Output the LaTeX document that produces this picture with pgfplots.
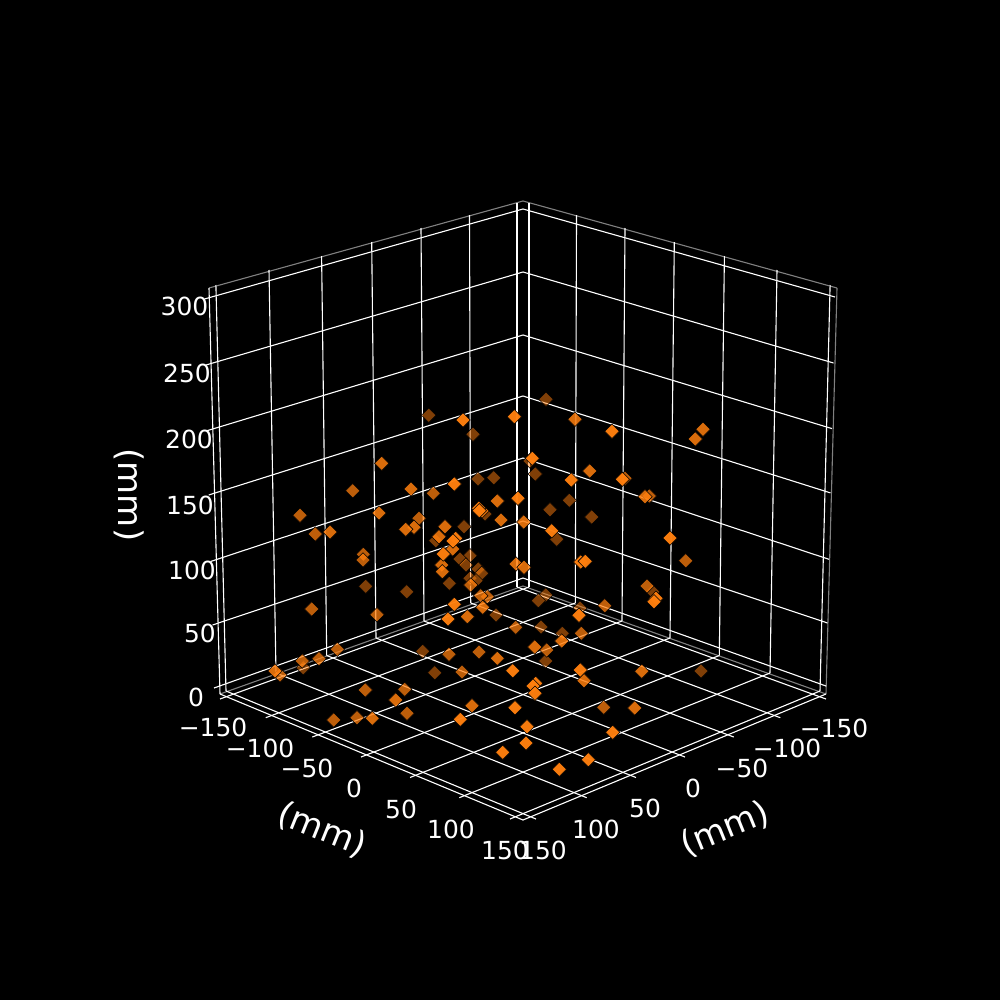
\documentclass[border=0pt]{standalone}
\usepackage{fontspec}
\setmainfont{DejaVu Sans}
\usepackage{pgfplots}
\pgfplotsset{compat=1.18}
\usepackage{pgfplotstable}

\definecolor{dot}{HTML}{FF7F0E}

\tikzset{
  tl/.style={text=white, font=\fontsize{18}{20}\selectfont, inner sep=0pt},
  al/.style={text=white, font=\fontsize{24.5}{28}\selectfont, inner sep=0pt},
}
\pgfplotsset{
  grid line/.style={white, line width=0.8pt, no marks, forget plot},
  pane line/.style={gray, line width=0.8pt, no marks, forget plot},
  dots/.style={only marks, mark=square*, mark size=3.7pt,
    mark options={rotate=45, draw=none, fill=dot, fill opacity=#1}},
}

% the view is a perspective one, so everything is kept in picture position (x, y down)
\pgfplotstableread{
x y
546 399.3
428.7 415.3
473 434.3
478 479
493.7 477.7
530 461
535.3 474
464 526.7
485 514
435.7 540.7
470 555.7
460 559
466 565
478.3 569
481.7 573.3
470 578.3
476 580.7
449.3 583.3
406.7 591.7
496 615
569.3 500.3
550 509.7
591.7 517
556.7 539.3
652.7 591.7
545.7 595
538.3 600.7
580 608
562.3 633.3
541 627
545.7 661
434.7 672.7
422.7 651.3
303.3 667.7
365.7 586.3
701 671
}\farpts
\pgfplotstableread{
x y
352.7 490.7
300 515.3
315.3 534
363.3 554.3
363 560
419 518.3
433.3 493.3
482 511
470.7 585
487.3 596.7
480.7 595.7
685.7 560.7
625 478.3
649.3 496
647 586
604.7 605.7
311.7 609
377 614.7
337.3 649.3
319 658.7
302.3 661
280 675
365.3 690
404.7 689.3
333.7 720
357 717.7
407 713.3
462 672
479 652
581.3 633.3
449 654.3
515.7 627.3
546.7 650
603.7 707.3
}\midpts
\pgfplotstableread{
x y
330 532
381.7 463.3
411 489
379 513
414 527.3
405.7 529.3
445 526.7
439 536.7
452.7 549
441.7 565
442.3 571.7
482.7 607.3
467.3 616.7
501 520
497.3 501
575 419.3
703 429.3
695.3 439
589.7 471
645 496.7
523.7 522
516 564
524 567.3
275 671
395.7 700
372.3 718.3
497.3 658.3
534.7 647
561.7 641
584 680.7
472 705.7
641.7 671.3
634.7 708
}\nearpts
\pgfplotstableread{
x y
463 420
612 431.3
514.3 416.7
532.3 458.3
518 498.3
454.3 484
478.7 508.3
479.3 510.7
455.7 538.3
453 541
443.3 554
454.3 604.3
448 619
571.3 480
622.3 479.3
551.7 530.7
670 538
580.7 562
585.3 561.3
656 598.3
654 601.7
579 615.3
512.7 670.7
580.3 670
535.7 683.3
533 686
535 693.3
515 707.7
460.3 719.3
527 726.7
526 743
502.7 752.3
588.3 759.7
559.3 769.3
612.7 732.3
}\frontpts

\begin{document}
\begin{tikzpicture}
\fill[black] (0,0) rectangle (10in,10in);
\begin{axis}[
  at={(0,0)}, anchor=south west,
  scale only axis, width=10in, height=10in,
  hide axis,
  xmin=0, xmax=1000, ymin=0, ymax=1000,
  y dir=reverse,
  clip=false,
]
% panes
\addplot[pane line] coordinates {(209,288) (523,201) (837,288)};
\addplot[pane line] coordinates {(220,694) (523,586) (826,694)};
\addplot[grid line] coordinates {(209,288) (220,694)};
\addplot[pane line] coordinates {(837,288) (826,694)};
\addplot[grid line] coordinates {(220,694) (523,820) (826,694)};

% z grid, both walls
\addplot[grid line] coordinates {(204.5,299) (523,209) (835,297)};
\addplot[grid line] coordinates {(206,365) (523,272) (833.5,363)};
\addplot[grid line] coordinates {(207,430.7) (523,335) (832,428.6)};
\addplot[grid line] coordinates {(208.7,495) (523,396) (830.5,492.9)};
\addplot[grid line] coordinates {(210.5,561.5) (523,458) (829,559.3)};
\addplot[grid line] coordinates {(212.5,625) (523,521) (827.5,623)};
\addplot[grid line] coordinates {(214,688) (523,578) (826,686)};

% verticals, left wall then right wall
\addplot[grid line] coordinates {(215.9,285) (226,691)};
\addplot[grid line] coordinates {(269,270) (276,673)};
\addplot[grid line] coordinates {(321.6,256) (326.7,655.5)};
\addplot[grid line] coordinates {(371.7,242) (376,638)};
\addplot[grid line] coordinates {(421,228) (424,621)};
\addplot[grid line] coordinates {(469.5,215) (470.7,603)};
\addplot[grid line] coordinates {(517,203) (517,587)};
\addplot[grid line] coordinates {(529,203) (529,587)};
\addplot[grid line] coordinates {(576.5,215) (575.3,603)};
\addplot[grid line] coordinates {(625,228) (622,621)};
\addplot[grid line] coordinates {(674.3,242) (670,638)};
\addplot[grid line] coordinates {(724.4,256) (719.3,655.5)};
\addplot[grid line] coordinates {(777,270) (770,673)};
\addplot[grid line] coordinates {(830.1,285) (820,691)};

% floor grid
\addplot[grid line] coordinates {(529,587) (220,699)};
\addplot[grid line] coordinates {(575.3,603) (265.7,717.7)};
\addplot[grid line] coordinates {(622,621) (312.3,737)};
\addplot[grid line] coordinates {(670,638) (361,757)};
\addplot[grid line] coordinates {(719.3,655.5) (410,777.5)};
\addplot[grid line] coordinates {(770,673) (459.3,797.7)};
\addplot[grid line] coordinates {(820,691) (510,819)};
\addplot[grid line] coordinates {(517,587) (826,699)};
\addplot[grid line] coordinates {(470.7,603) (780.3,717.7)};
\addplot[grid line] coordinates {(424,621) (733.7,737)};
\addplot[grid line] coordinates {(376,638) (685,757)};
\addplot[grid line] coordinates {(326.7,655.5) (636,777.5)};
\addplot[grid line] coordinates {(276,673) (586.7,797.7)};
\addplot[grid line] coordinates {(226,691) (536,819)};

% points, far to near
\addplot[dots=0.5] table {\farpts};
\addplot[dots=0.74] table {\midpts};
\addplot[dots=0.85] table {\nearpts};
\addplot[dots=0.97] table {\frontpts};

% z ticks
\node[tl] at (axis cs:184.5,306) {300};
\node[tl] at (axis cs:187,373) {250};
\node[tl] at (axis cs:189,439) {200};
\node[tl] at (axis cs:190,505) {150};
\node[tl] at (axis cs:192,570) {100};
\node[tl] at (axis cs:200,633) {50};
\node[tl] at (axis cs:196,697) {0};
% left floor ticks
\node[tl] at (axis cs:213,727) {−150};
\node[tl] at (axis cs:260,748) {−100};
\node[tl] at (axis cs:307,768) {−50};
\node[tl] at (axis cs:354,788) {0};
\node[tl] at (axis cs:401,809) {50};
\node[tl] at (axis cs:451,829) {100};
\node[tl] at (axis cs:505,850) {150};
% right floor ticks
\node[tl] at (axis cs:834,728) {−150};
\node[tl] at (axis cs:787,748) {−100};
\node[tl] at (axis cs:742,768) {−50};
\node[tl] at (axis cs:693,788) {0};
\node[tl] at (axis cs:645,808) {50};
\node[tl] at (axis cs:596,829) {100};
\node[tl] at (axis cs:543,850) {150};
% axis labels
\node[al, rotate=-22] at (axis cs:322,830) {(mm)};
\node[al, rotate=22] at (axis cs:725,829) {(mm)};
\node[al, rotate=-90] at (axis cs:129,495) {(mm)};
\end{axis}
\end{tikzpicture}
\end{document}
